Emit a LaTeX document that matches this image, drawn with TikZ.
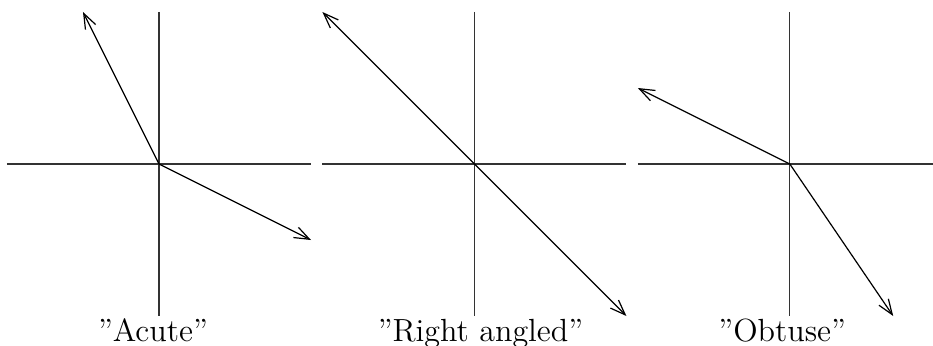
\documentclass[tikz,border=0pt]{standalone}
\usepackage{tikz}
\usetikzlibrary{arrows.meta}

\tikzset{
  axis/.style={draw=black!80, line width=0.5pt},
  vec/.style={draw=black, line width=0.45pt, -{Straight Barb[length=2mm,width=1.5mm]}},
  caption/.style={below, inner sep=0pt, font=\large}
}

\begin{document}
\begin{tikzpicture}[x=1cm,y=1cm]
  \useasboundingbox (-2.092,-2.382) rectangle (10.184,2.158);
  % panels: origin / first tip / second tip / caption shift / caption
  \foreach \i/\ox/\ax/\ay/\bx/\by/\dx/\lab in {
      1/0/-1/2/2/-1/-0.08/{''Acute''},
      2/4.15/-2/2/2/-2/0.08/{''Right angled''},
      3/8.3/-2/1/1.36/-2/-0.1/{''Obtuse''}} {
    \coordinate (o\i) at (\ox,0);
    \coordinate (l\i) at (\ox-2,0);
    \coordinate (r\i) at (\ox+2,0);
    \coordinate (t\i) at (\ox,2);
    \coordinate (b\i) at (\ox,-2);
    \coordinate (a\i) at (\ox+\ax,\ay);
    \coordinate (c\i) at (\ox+\bx,\by);
    \draw[axis] (l\i) -- (r\i);
    \draw[axis] (t\i) -- (b\i);
    \draw[vec] (o\i) -- (a\i);
    \draw[vec] (o\i) -- (c\i);
    \node[caption] (cap\i) at (\ox+\dx,-2.03) {\lab};
  }
\end{tikzpicture}
\end{document}
